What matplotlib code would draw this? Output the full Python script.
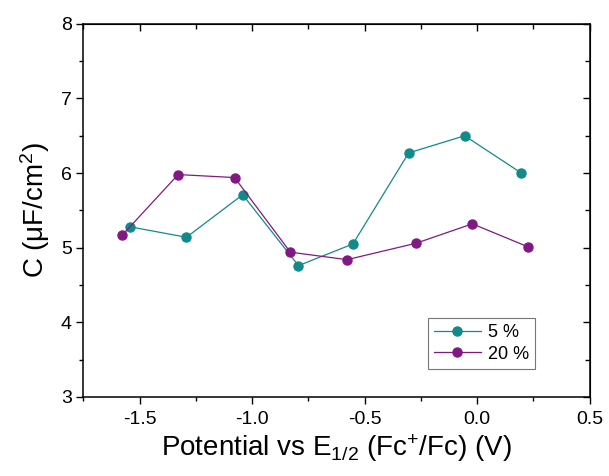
import matplotlib
matplotlib.use('Agg')
import matplotlib.pyplot as plt
from matplotlib.ticker import MultipleLocator

plt.rcParams['font.family'] = ['Liberation Sans', 'DejaVu Sans']
plt.rcParams['mathtext.fontset'] = 'custom'
plt.rcParams['mathtext.rm'] = 'Liberation Sans'
plt.rcParams['mathtext.it'] = 'Liberation Sans'

x5 = [-1.543, -1.292, -1.042, -0.794, -0.552, -0.304, -0.055, 0.197]
c5 = [5.28, 5.14, 5.71, 4.76, 5.05, 6.27, 6.50, 6.00]
x20 = [-1.577, -1.329, -1.078, -0.830, -0.578, -0.271, -0.021, 0.228]
c20 = [5.17, 5.98, 5.94, 4.94, 4.84, 5.06, 5.32, 5.01]

fig = plt.figure(figsize=(6.09, 4.76), dpi=100)
ax = fig.add_axes([0.137, 0.166, 0.831, 0.784])

ax.plot(x5, c5, 'o-', color='#128a8a', lw=0.9, ms=6.5, label='5 %')
ax.plot(x20, c20, 'o-', color='#801a82', lw=0.9, ms=6.5, label='20 %')

ax.set_xlim(-1.75, 0.5)
ax.set_ylim(3, 8)
ax.set_xticks([-1.5, -1.0, -0.5, 0.0, 0.5])
ax.set_xticklabels(['-1.5', '-1.0', '-0.5', '0.0', '0.5'])
ax.xaxis.set_minor_locator(MultipleLocator(0.25))
ax.yaxis.set_major_locator(MultipleLocator(1))
ax.yaxis.set_minor_locator(MultipleLocator(0.5))

ax.tick_params(which='both', direction='out', top=False, right=False, labelsize=14, width=1)
ax.tick_params(which='major', length=5)
ax.tick_params(which='minor', length=3)
ax.tick_params(axis='x', which='major', pad=5)

# inward ticks on top and right
top = ax.secondary_xaxis('top')
top.xaxis.set_major_locator(MultipleLocator(0.5))
top.xaxis.set_minor_locator(MultipleLocator(0.25))
top.tick_params(which='both', direction='in', labeltop=False, width=1)
top.tick_params(which='major', length=5)
top.tick_params(which='minor', length=3.5)
right = ax.secondary_yaxis('right')
right.yaxis.set_major_locator(MultipleLocator(1))
right.yaxis.set_minor_locator(MultipleLocator(0.5))
right.tick_params(which='both', direction='in', labelright=False, width=1)
right.tick_params(which='major', length=5)
right.tick_params(which='minor', length=3.5)

for s in ax.spines.values():
    s.set_linewidth(1.1)

ax.set_xlabel(r'Potential vs E$_{1/2}$ (Fc$^{+}$/Fc) (V)', fontsize=20, labelpad=3)
ax.set_ylabel(r'C ($\mu$F/cm$^{2}$)', fontsize=20, labelpad=6)

leg = ax.legend(loc='lower left', bbox_to_anchor=(0.68, 0.075), fontsize=13,
                fancybox=False, framealpha=1, edgecolor='#777777',
                handlelength=2.6, handletextpad=0.4, borderpad=0.35,
                borderaxespad=0, labelspacing=0.25)
leg.get_frame().set_linewidth(0.8)

fig.savefig('out.png', dpi=100)
